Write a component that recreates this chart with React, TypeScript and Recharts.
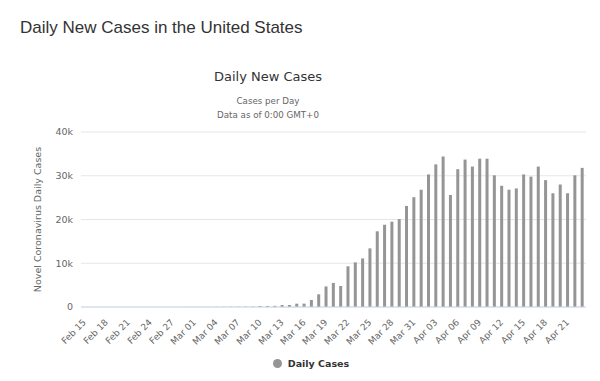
import { BarChart, Bar, XAxis, YAxis, CartesianGrid, Legend, Label } from 'recharts'

const dates = [
  'Feb 15', 'Feb 16', 'Feb 17', 'Feb 18', 'Feb 19', 'Feb 20', 'Feb 21', 'Feb 22', 'Feb 23', 'Feb 24',
  'Feb 25', 'Feb 26', 'Feb 27', 'Feb 28', 'Feb 29', 'Mar 01', 'Mar 02', 'Mar 03', 'Mar 04', 'Mar 05',
  'Mar 06', 'Mar 07', 'Mar 08', 'Mar 09', 'Mar 10', 'Mar 11', 'Mar 12', 'Mar 13', 'Mar 14', 'Mar 15',
  'Mar 16', 'Mar 17', 'Mar 18', 'Mar 19', 'Mar 20', 'Mar 21', 'Mar 22', 'Mar 23', 'Mar 24', 'Mar 25',
  'Mar 26', 'Mar 27', 'Mar 28', 'Mar 29', 'Mar 30', 'Mar 31', 'Apr 01', 'Apr 02', 'Apr 03', 'Apr 04',
  'Apr 05', 'Apr 06', 'Apr 07', 'Apr 08', 'Apr 09', 'Apr 10', 'Apr 11', 'Apr 12', 'Apr 13', 'Apr 14',
  'Apr 15', 'Apr 16', 'Apr 17', 'Apr 18', 'Apr 19', 'Apr 20', 'Apr 21', 'Apr 22', 'Apr 23',
]

const dailyCases = [
  0, 0, 0, 0, 0, 0, 2, 0, 0, 0,
  0, 0, 1, 0, 8, 8, 20, 22, 29, 45,
  50, 60, 70, 80, 230, 240, 260, 450, 460, 760,
  770, 1600, 2900, 4700, 5500, 4800, 9300, 10200, 11100, 13400,
  17300, 18800, 19500, 20100, 23100, 25100, 26800, 30300, 32600, 34400,
  25600, 31500, 33700, 32100, 33900, 33900, 30100, 27700, 26800, 27100,
  30300, 29800, 32100, 29000, 26000, 28000, 26000, 30100, 31800,
]

const yTicks = [0, 10000, 20000, 30000, 40000]

const data = dates.map((d, i) => ({ date: d, cases: dailyCases[i] }))

const chartFont = '"DejaVu Sans", Verdana, sans-serif'

function DateTick({ x, y, payload }: any) {
  return (
    <text
      x={x + 2}
      y={y + 8}
      transform={`rotate(-45, ${x + 2}, ${y + 8})`}
      textAnchor="end"
      fontSize={9}
      fontFamily={chartFont}
      fill="#666"
    >
      {payload.value}
    </text>
  )
}

function LegendBox() {
  return (
    <div
      style={{
        display: 'flex',
        alignItems: 'center',
        justifyContent: 'center',
        gap: '6px',
        fontFamily: chartFont,
        fontSize: '9.5px',
        fontWeight: 'bold',
        color: '#333',
        paddingLeft: '36px',
        paddingTop: '5px',
      }}
    >
      <span
        style={{
          width: '9px',
          height: '9px',
          borderRadius: '50%',
          background: '#959595',
          display: 'inline-block',
        }}
      />
      Daily Cases
    </div>
  )
}

export default function App() {
  return (
    <div
      style={{
        position: 'absolute',
        left: 0,
        top: 0,
        width: 600,
        height: 381,
        background: '#fff',
      }}
    >
      <div
        style={{
          position: 'absolute',
          left: 20,
          top: 18,
          fontFamily: '"Liberation Sans", Arial, sans-serif',
          fontSize: '17px',
          color: '#333',
          whiteSpace: 'nowrap',
        }}
      >
        Daily New Cases in the United States
      </div>
      <div
        style={{
          position: 'absolute',
          left: 0,
          top: 69,
          width: 536,
          textAlign: 'center',
          fontFamily: chartFont,
          color: '#333',
        }}
      >
        <div style={{ fontSize: '13px' }}>Daily New Cases</div>
        <div style={{ fontSize: '8.7px', color: '#666', marginTop: '10px', lineHeight: '14px' }}>
          Cases per Day
          <br />
          Data as of 0:00 GMT+0
        </div>
      </div>
      <div style={{ position: 'absolute', left: 0, top: 0 }}>
        <BarChart
          width={600}
          height={381}
          data={data}
          margin={{ top: 132, right: 14, bottom: 8, left: 0 }}
          barCategoryGap={2}
        >
          <CartesianGrid vertical={false} stroke="#e6e6e6" />
          <XAxis
            dataKey="date"
            interval={2}
            tick={<DateTick />}
            tickLine={false}
            axisLine={{ stroke: '#ccd6eb' }}
            height={46}
          />
          <YAxis
            domain={[0, 40000]}
            ticks={yTicks}
            width={81}
            axisLine={false}
            tickLine={false}
            tick={{ fill: '#666', fontSize: 9.5, fontFamily: chartFont }}
            tickFormatter={(v) => (v === 0 ? '0' : `${v / 1000}k`)}
          >
            <Label
              value="Novel Coronavirus Daily Cases"
              angle={-90}
              position="insideLeft"
              offset={38}
              style={{ fill: '#666', fontSize: 9.5, fontFamily: chartFont, textAnchor: 'middle' }}
            />
          </YAxis>
          <Legend verticalAlign="bottom" height={20} content={<LegendBox />} />
          <Bar dataKey="cases" fill="#959595" barSize={3} isAnimationActive={false} />
        </BarChart>
      </div>
    </div>
  )
}
